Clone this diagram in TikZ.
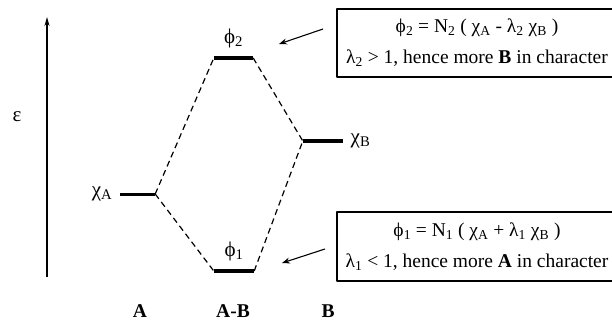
\documentclass[tikz,border=0pt]{standalone}
\usepackage{fontspec}
\setmainfont{Liberation Serif}
\usetikzlibrary{arrows.meta}
\usetikzlibrary{positioning}
\tikzset{level/.style={fill=black,inner sep=0pt,minimum height=4pt},
  lvlab/.style={font=\fontsize{21}{24}\selectfont},
  dashline/.style={line width=1.2pt,dash pattern=on 6pt off 4pt},
  capbox/.style={draw,line width=1.3pt,minimum width=280pt,inner sep=0pt,align=center}}
\newcommand{\lo}[1]{\textsubscript{#1}}

\begin{document}
\begin{tikzpicture}[x=1pt,y=-1pt,>=Stealth,line join=round,font=\fontsize{19.5}{23}\selectfont]
\useasboundingbox (0,0) rectangle (612,321);
\clip (0,0) rectangle (612,321);
% --- energy axis
\coordinate (axbot) at (47,277); \coordinate (axtop) at (47,17);
\draw[line width=1.2pt,-{Stealth[length=9pt,width=5pt]}] (axbot) -- (axtop);
\node[lvlab] (eps) at (17,117) {ε};
% --- levels and their labels
\node[level,minimum width=35pt,minimum height=3pt] (chiA) at (137.5,194) {};
\node[level,minimum width=39pt] (phi2) at (233.5,58) {};
\node[level,minimum width=40pt] (phi1) at (234,271) {};
\node[level,minimum width=40pt] (chiB) at (323,141) {};
\node[lvlab,left=4pt of chiA] (lchiA) {χ\lo{A}};
\node[lvlab,above=4pt of phi2] (lphi2) {ϕ\lo{2}};
\node[lvlab,above=4pt of phi1] (lphi1) {ϕ\lo{1}};
\node[lvlab,right=4pt of chiB] (lchiB) {χ\lo{B}};
\draw[dashline] (chiA.east) -- (phi2.west); \draw[dashline] (chiA.east) -- (phi1.west);
\draw[dashline] (phi2.east) -- (chiB.west); \draw[dashline] (phi1.east) -- (chiB.west);
% --- boxes on the right
\node[capbox,minimum height=68pt] (box2) at (477,43) {ϕ\lo{2} = N\lo{2} ( χ\lo{A} - λ\lo{2} χ\lo{B} )\\[8pt]λ\lo{2} > 1, hence more \textbf{B} in character};
\node[capbox,minimum height=69pt] (box1) at (477,246.5) {ϕ\lo{1} = N\lo{1} ( χ\lo{A} + λ\lo{1} χ\lo{B} )\\[8pt]λ\lo{1} < 1, hence more \textbf{A} in character};
\coordinate (a2s) at (323,29); \coordinate (a2e) at (279,44);
\coordinate (a1s) at (325,249); \coordinate (a1e) at (282,263);
\draw[line width=1.1pt,->] (a2s) -- (a2e); \draw[line width=1.1pt,->] (a1s) -- (a1e);
% --- fragments
\node (sA) at (140,311) {\textbf{A}};
\node (sAB) at (233,311) {\textbf{A-B}};
\node (sB) at (328,311) {\textbf{B}};
\end{tikzpicture}
\end{document}
